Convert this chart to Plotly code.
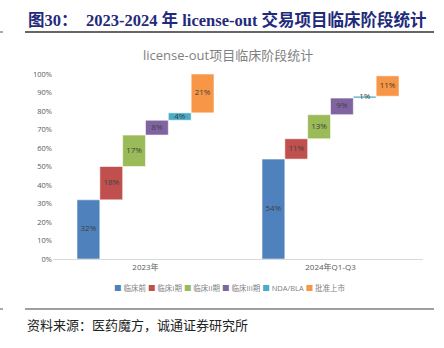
import plotly.graph_objects as go

# Clinical stage shares of license-out deals
periods = ["2023年", "2024年Q1-Q3"]
stages = ["临床前", "临床I期", "临床II期", "临床III期", "NDA/BLA", "批准上市"]
share_2023 = [32, 18, 17, 8, 4, 21]
share_2024 = [54, 11, 13, 9, 1, 11]
colors = ["#4F81BD", "#C0504D", "#9BBB59", "#8064A2", "#4BACC6", "#F79646"]
y_ticks = [0, 10, 20, 30, 40, 50, 60, 70, 80, 90, 100]

W, H = 444, 348
PL, PR, PT, PB = 53, 423, 74, 259  # plot area in pixels


def px_x(x):
    return (x - PL) / (PR - PL)


def px_y(y):
    return (PB - y) / (PB - PT)


series = [share_2023, share_2024]
bar_w = 0.1234

fig = go.Figure()
for i, stage in enumerate(stages):
    xs, bases, vals = [], [], []
    for p, vals_p in enumerate(series):
        xs.append(p + (i - 2.5) * bar_w)
        bases.append(sum(vals_p[:i]))
        vals.append(vals_p[i])
    fig.add_trace(go.Bar(
        x=xs, y=vals, base=bases, width=bar_w, name=stage,
        marker=dict(color=colors[i], line=dict(color="rgba(255,255,255,0.55)", width=1)),
        showlegend=False, hoverinfo="skip",
    ))
    fig.add_trace(go.Scatter(
        x=xs, y=[b + v / 2 for b, v in zip(bases, vals)],
        mode="text", text=[f"{v}%" for v in vals],
        textfont=dict(size=8, color="#404040", family="Open Sans, Noto Sans CJK SC"),
        showlegend=False, hoverinfo="skip",
    ))

fig.update_layout(
    width=W, height=H,
    margin=dict(l=PL, r=W - PR, t=PT, b=H - PB),
    paper_bgcolor="white", plot_bgcolor="white",
    xaxis=dict(range=[-0.5, 1.5], tickvals=[0, 1], ticktext=periods,
               showgrid=False, zeroline=False, showline=True, linecolor="#D9D9D9",
               linewidth=1, ticks="", tickfont=dict(size=8, color="#595959",
               family="Open Sans, Noto Sans CJK SC")),
    yaxis=dict(range=[0, 100], tickvals=y_ticks, ticktext=[f"{t}%" for t in y_ticks],
               showgrid=False, zeroline=False, showline=False, ticks="",
               tickfont=dict(size=7.5, color="#595959", family="Open Sans, Noto Sans CJK SC")),
    font=dict(family="Noto Sans CJK SC"),
)

ann = []
# header
ann.append(dict(x=px_x(26), y=px_y(20), text="<b>图30：</b>", showarrow=False,
                xref="paper", yref="paper", xanchor="left", yanchor="middle",
                font=dict(size=16.5, color="#1F2B7A", family="Liberation Serif, Noto Sans CJK SC")))
ann.append(dict(x=px_x(84), y=px_y(20),
                text="<b>2023-2024 年 license-out 交易项目临床阶段统计</b>", showarrow=False,
                xref="paper", yref="paper", xanchor="left", yanchor="middle",
                font=dict(size=16.5, color="#1F2B7A", family="Liberation Serif, Noto Sans CJK SC")))
# chart title
ann.append(dict(x=px_x(228), y=px_y(55), text="license-out项目临床阶段统计", showarrow=False,
                xref="paper", yref="paper", xanchor="center", yanchor="middle",
                font=dict(size=13, color="#7F7F7F", family="Open Sans, Noto Sans CJK SC")))
# legend
legend_txt = " ".join(f"<span style='color:{c}'>■</span> {s}" for c, s in zip(colors, stages))
ann.append(dict(x=px_x(230), y=px_y(288), text=legend_txt, showarrow=False,
                xref="paper", yref="paper", xanchor="center", yanchor="middle",
                font=dict(size=7.5, color="#7F7F7F", family="Open Sans, Noto Sans CJK SC")))
# source
ann.append(dict(x=px_x(25), y=px_y(325), text="资料来源：医药魔方，诚通证券研究所", showarrow=False,
                xref="paper", yref="paper", xanchor="left", yanchor="middle",
                font=dict(size=13, color="#222222", family="Liberation Serif, Noto Sans CJK SC")))
fig.update_layout(annotations=ann)

shapes = []
for yy, col in [(32, "#333333"), (309, "#7F7F7F")]:
    shapes.append(dict(type="line", xref="paper", yref="paper",
                       x0=px_x(25), x1=px_x(434), y0=px_y(yy), y1=px_y(yy),
                       line=dict(color=col, width=1.5)))
    shapes.append(dict(type="line", xref="paper", yref="paper",
                       x0=px_x(0), x1=px_x(3), y0=px_y(yy), y1=px_y(yy),
                       line=dict(color="#555555", width=1)))
fig.update_layout(shapes=shapes)

fig.write_html("out.html")
